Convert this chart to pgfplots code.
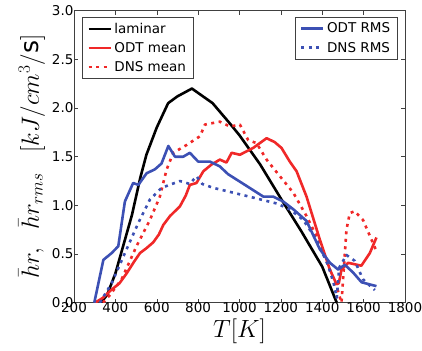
\documentclass[border=0pt]{standalone}
\usepackage{fontspec}
\setmainfont{DejaVu Sans}
\usepackage{pgfplots}
\pgfplotsset{compat=1.18}
\definecolor{mred}{RGB}{240,40,40}
\definecolor{mblue}{RGB}{60,80,180}
\begin{document}
\begin{tikzpicture}
\pgfplotsset{
  common/.style={
    scale only axis, width=331pt, height=292pt,
    xmin=200, xmax=1800, ymin=0, ymax=3,
    /pgf/number format/assume math mode=true,
  },
  every axis legend/.append style={font=\fontsize{13.5}{16}\selectfont, draw=black!75, line width=0.7pt,
     inner xsep=5pt, inner ysep=3pt, row sep=2.5pt,
     nodes={inner sep=2.5pt},
     /tikz/every even column/.append style={column sep=9pt}},
  legend image code/.code={\draw[#1] (0cm,0cm) -- (22pt,0cm);},
  lw/.style={line width=2.6pt, line join=round},
  dots/.style={dash pattern=on 3pt off 4.5pt},
}
\begin{axis}[common,
  axis line style={black!75, line width=0.6pt},
  tick style={black!75, line width=0.5pt},
  tick align=inside, major tick length=4pt,
  xtick={200,400,...,1800}, ytick={0,0.5,...,3},
  x tick label style={font=\fontsize{13.5}{16}\selectfont, yshift=3.5pt},
  y tick label style={font=\fontsize{13.5}{16}\selectfont, xshift=3pt},
  yticklabel style={/pgf/number format/.cd, fixed, fixed zerofill, precision=1},
  xticklabel style={/pgf/number format/.cd, 1000 sep={}},
  xlabel={$T[K]$}, xlabel style={font=\fontsize{24}{26}\selectfont, at={(axis description cs:0.5,-0.12)}, anchor=base},
  ylabel={$\bar{h}r,\;\;\bar{h}r_{rms}\;\;\;[kJ/cm^3/\mathrm{s}]$},
  ylabel style={font=\fontsize{25}{28}\selectfont, at={(axis description cs:-0.106,0.5)}, anchor=base},
  legend style={at={(0.024,0.978)}, anchor=north west, legend cell align=left},
]
\addplot[black, lw] coordinates {(330,0)(360,0.08)(400,0.3)(440,0.6)(480,0.9)(520,1.28)(550,1.52)(600,1.8)(655,2.05)(700,2.12)(770,2.2)(870,2.05)(950,1.85)(1000,1.72)(1100,1.42)(1200,1.07)(1300,0.73)(1400,0.37)(1470,0.0)};
\addlegendentry{laminar}
\addplot[mred, lw] coordinates {(301,0)(340,0.05)(374,0.12)(420,0.2)(454,0.3)(490,0.42)(519,0.51)(550,0.56)(583,0.62)(610,0.7)(632,0.8)(664,0.89)(712,0.99)(740,1.1)(760,1.21)(792,1.23)(825,1.35)(865,1.42)(905,1.47)(937,1.44)(962,1.54)(1002,1.52)(1066,1.59)(1131,1.69)(1170,1.65)(1203,1.59)(1243,1.45)(1276,1.35)(1324,1.09)(1388,0.65)(1437,0.34)(1469,0.19)(1480,0.2)(1493,0.34)(1525,0.41)(1589,0.38)(1630,0.51)(1662,0.67)};
\addlegendentry{ODT mean}
\addplot[mred, lw, dots] coordinates {(340,0)(374,0.08)(430,0.24)(502,0.58)(567,0.85)(615,1.09)(648,1.37)(680,1.54)(744,1.62)(809,1.71)(833,1.83)(905,1.86)(954,1.81)(1002,1.83)(1042,1.67)(1082,1.64)(1131,1.47)(1195,1.3)(1260,1.13)(1324,0.89)(1388,0.62)(1437,0.34)(1469,0.17)(1493,0.0)(1517,0.75)(1533,0.92)(1557,0.94)(1597,0.85)(1662,0.53)};
\addlegendentry{DNS mean}
\end{axis}
\begin{axis}[common, hide axis,
  legend style={at={(0.979,0.978)}, anchor=north east, legend cell align=left},
]
\addplot[mblue, lw] coordinates {(298,0)(342,0.44)(382,0.51)(414,0.58)(446,1.04)(486,1.23)(511,1.21)(551,1.33)(591,1.37)(623,1.43)(656,1.61)(688,1.5)(728,1.5)(760,1.54)(800,1.45)(857,1.45)(905,1.4)(945,1.32)(1034,1.2)(1115,1.09)(1163,1.09)(1211,1.04)(1260,0.96)(1324,0.84)(1388,0.55)(1437,0.41)(1477,0.34)(1509,0.39)(1549,0.31)(1590,0.21)(1662,0.17)};
\addlegendentry{ODT RMS}
\addplot[mblue, lw, dots] coordinates {(325,0)(382,0.2)(446,0.51)(511,0.82)(567,1.06)(623,1.18)(712,1.25)(760,1.22)(792,1.3)(820,1.22)(873,1.18)(970,1.13)(1066,1.08)(1179,1.02)(1243,0.96)(1308,0.85)(1372,0.65)(1429,0.38)(1455,0.2)(1470,0.05)(1482,0.36)(1517,0.49)(1557,0.43)(1597,0.24)(1654,0.13)};
\addlegendentry{DNS RMS}
\end{axis}
\pgfresetboundingbox
\path (-74pt,-48pt) rectangle (348pt,302.7pt);
\end{tikzpicture}
\end{document}
